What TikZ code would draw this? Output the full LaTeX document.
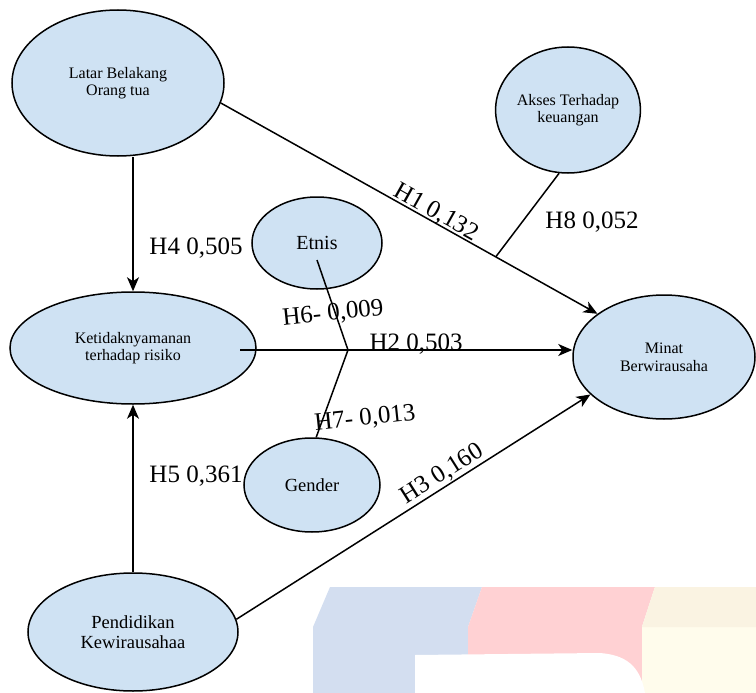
\documentclass[tikz,border=0pt]{standalone}
\usepackage{fontspec}
\setmainfont{Liberation Serif}
\usetikzlibrary{
    shapes.geometric,
    arrows.meta,
    calc,
    positioning
}
\definecolor{varblue}{RGB}{207,226,243}
\definecolor{wmblue}{RGB}{211,222,240}
\definecolor{wmred}{RGB}{255,209,211}
\definecolor{wmyellow}{RGB}{255,252,236}
\definecolor{wmtan}{RGB}{250,243,226}
\tikzset{
    var/.style={ellipse, draw, fill=varblue, line width=1.5pt, align=center, inner sep=0pt},
    lbl/.style={font=\fontsize{25}{27}\selectfont, inner sep=1pt}
}

\begin{document}
\begin{tikzpicture}[x=1pt, y=-1pt, line width=1.5pt, >={Stealth[length=14pt, width=12pt, inset=4pt]}]
                        \useasboundingbox (0,0) rectangle (756,693);
                        % faded blocks in the lower right
                        \fill[wmblue] (330,587) -- (482,587) -- (468,627) -- (468,693) -- (313,693) -- (313,627) -- cycle;
                        \fill[wmred] (482,587) -- (655,587) -- (642,627) -- (642,693) -- (468,693) -- (468,627) -- cycle;
                        \fill[wmyellow] (655,587) -- (756,587) -- (756,693) -- (642,693) -- (642,627) -- cycle;
                        \fill[wmtan] (655,587) -- (756,587) -- (756,627) -- (642,627) -- cycle;
                        \fill[white] (415,655) -- (600,653) .. controls (625,655) and (640,665) .. (645,693) -- (415,693) -- cycle;

                        \node[var, minimum width=212pt, minimum height=146pt, font=\fontsize{16}{17}\selectfont] (lb) at (118,83) {Latar Belakang\\Orang tua};
                        \node[var, minimum width=144pt, minimum height=126pt, font=\fontsize{16}{17}\selectfont] (ak) at (568,110) {Akses Terhadap\\keuangan};
                        \node[var, minimum width=130pt, minimum height=92pt, font=\fontsize{20}{22}\selectfont] (et) at (317,243) {Etnis};
                        \node[var, minimum width=246pt, minimum height=112pt, font=\fontsize{16}{17}\selectfont] (kt) at (133,348) {Ketidaknyamanan\\terhadap risiko};
                        \node[var, minimum width=136pt, minimum height=94pt, font=\fontsize{18.5}{20}\selectfont] (gd) at (312,485) {Gender};
                        \node[var, minimum width=182pt, minimum height=124pt, font=\fontsize{16}{18}\selectfont] (mn) at (664,357) {Minat\\Berwirausaha};
                        \node[var, minimum width=210pt, minimum height=118pt, font=\fontsize{18.5}{20}\selectfont] (pk) at (133,632) {Pendidikan\\Kewirausahaa};

                        \coordinate (h8) at ($(lb.-11)!0.73!(mn.147)$);
                        \coordinate (k2) at (240,350);
                        \coordinate (e1) at (317,260);
                        \coordinate (jn) at (348,350);

                        \draw
                        (lb.south -| kt.north) edge[->] (kt.north)
                        (lb.-11) edge[->] node[lbl, sloped, anchor=base, pos=0.56, yshift=3pt] {H1 0,132} (mn.147)
                        (ak.-98) edge (h8)
                        (k2) edge[->] node[lbl, anchor=base, pos=0.53] {H2 0,503} (mn.west |- k2)
                        (pk.north) edge[->] (kt.south)
                        (pk.7) edge[->] node[lbl, sloped, above, pos=0.6] {H3 0,160} (mn.-153);
                        \draw (e1) -- (jn) -- (gd.85);

                        \node[lbl] (h4) at (196,248) {H4 0,505};
                        \node[lbl] (h5) at (196,476) {H5 0,361};
                        \node[lbl] (h8l) at (592,222) {H8 0,052};
                        \node[lbl, rotate=6] (h6) at (333,314) {H6- 0,009};
                        \node[lbl, rotate=6] (h7) at (365,419) {H7- 0,013};
                    \end{tikzpicture}
\end{document}
